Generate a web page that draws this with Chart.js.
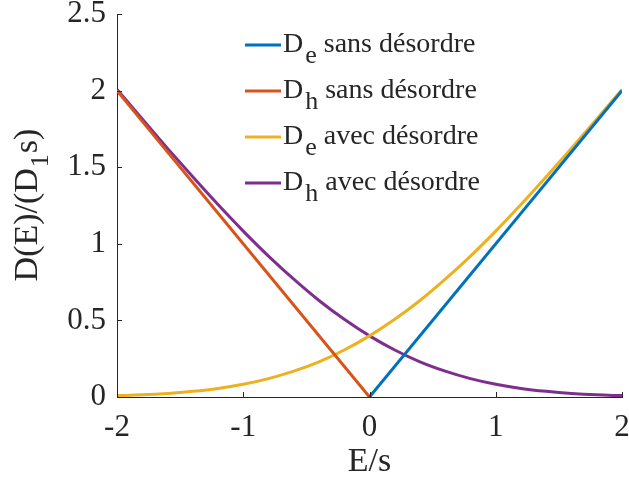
<!DOCTYPE html>
<html>
<head>
<meta charset="utf-8">
<script src="https://cdn.jsdelivr.net/npm/chart.js@4/dist/chart.umd.min.js"></script>
<style>
html,body{margin:0;padding:0;background:#fff;}
#wrap{width:629px;height:488px;position:relative;}
.pre{font-family:"Liberation Serif";position:absolute;left:-999px;top:-999px;}
</style>
</head>
<body>
<div id="wrap"><canvas id="c" width="629" height="488"></canvas></div>
<span class="pre">D(E) désordre 0.5</span>
<script>
// ---- data ----
const xTicks = [-2, -1, 0, 1, 2];
const yTicks = [0, 0.5, 1, 1.5, 2, 2.5];

const eSans = [0, 2];
const deSans = [0, 2];
const hSans = [-2, 0];
const dhSans = [2, 0];

const eAvec = [-2, -1.8, -1.6, -1.4, -1.2, -1, -0.8, -0.6, -0.4, -0.2, 0, 0.2, 0.4, 0.6, 0.8, 1, 1.2, 1.4, 1.6, 1.8, 2];
const deAvec = [0.009, 0.014, 0.023, 0.037, 0.056, 0.083, 0.12, 0.169, 0.23, 0.307, 0.399, 0.507, 0.63, 0.769, 0.92, 1.083, 1.256, 1.437, 1.623, 1.814, 2.008];
const dhAvec = [2.008, 1.814, 1.623, 1.437, 1.256, 1.083, 0.92, 0.769, 0.63, 0.507, 0.399, 0.307, 0.23, 0.169, 0.12, 0.083, 0.056, 0.037, 0.023, 0.014, 0.009];

const legendMain = ['D', 'D', 'D', 'D'];
const legendSub = ['e', 'h', 'e', 'h'];
const legendRest = [' sans désordre', ' sans désordre', ' avec désordre', ' avec désordre'];
const colors = ['#0072BD', '#D95319', '#EDB120', '#7E2F8E'];

const xTitle = 'E/s';
const yTitleParts = ['D(E)/(D', '1', 's)'];

const SERIF = "'Liberation Serif', 'Times New Roman', 'DejaVu Serif', serif";
const TXT = '#262626';

function pts(xs, ys) { return xs.map((x, i) => ({x: x, y: ys[i]})); }

const extras = {
  id: 'extras',
  afterDraw(chart) {
    const ctx = chart.ctx;
    const xs = chart.scales.x, ys = chart.scales.y;
    const ca = chart.chartArea;
    ctx.save();
    ctx.strokeStyle = TXT;
    ctx.lineWidth = 1;
    ctx.beginPath();
    xTicks.forEach(v => {
      const px = Math.round(xs.getPixelForValue(v)) + 0.5;
      ctx.moveTo(px, ca.bottom);
      ctx.lineTo(px, ca.bottom - 5);
    });
    yTicks.forEach(v => {
      const py = Math.round(ys.getPixelForValue(v)) + 0.5;
      ctx.moveTo(ca.left, py);
      ctx.lineTo(ca.left + 5, py);
    });
    ctx.stroke();

    ctx.fillStyle = TXT;
    const mainF = '34px ' + SERIF, subF = '26px ' + SERIF;
    ctx.font = mainF; const w1 = ctx.measureText(yTitleParts[0]).width;
    ctx.font = subF; const w2 = ctx.measureText(yTitleParts[1]).width;
    ctx.font = mainF; const w3 = ctx.measureText(yTitleParts[2]).width;
    const total = w1 + w2 + w3 + 2;
    ctx.translate(37, 205);
    ctx.rotate(-Math.PI / 2);
    ctx.textBaseline = 'alphabetic';
    ctx.textAlign = 'left';
    let cx = -total / 2;
    ctx.font = mainF; ctx.fillText(yTitleParts[0], cx, 0); cx += w1 + 1;
    ctx.font = subF; ctx.fillText(yTitleParts[1], cx, 11); cx += w2 + 1;
    ctx.font = mainF; ctx.fillText(yTitleParts[2], cx, 0);
    ctx.restore();

    ctx.save();
    const rowY = [45, 91, 137, 183];
    ctx.textBaseline = 'alphabetic';
    ctx.textAlign = 'left';
    ctx.fillStyle = TXT;
    for (let i = 0; i < 4; i++) {
      const y = rowY[i];
      ctx.strokeStyle = colors[i];
      ctx.lineWidth = 3;
      ctx.beginPath();
      ctx.moveTo(245, y); ctx.lineTo(281, y);
      ctx.stroke();
      let tx = 283;
      ctx.font = '28px ' + SERIF;
      ctx.fillText(legendMain[i], tx, y + 7);
      tx += ctx.measureText(legendMain[i]).width + 2;
      ctx.font = '26px ' + SERIF;
      ctx.fillText(legendSub[i], tx, y + 18);
      tx += ctx.measureText(legendSub[i]).width;
      ctx.font = '28px ' + SERIF;
      ctx.fillText(legendRest[i], tx, y + 7);
    }
    ctx.restore();
  }
};

function build() {
  new Chart(document.getElementById('c'), {
    type: 'line',
    data: {
      datasets: [
        {label: 'De sans désordre', data: pts(eSans, deSans), borderColor: colors[0]},
        {label: 'Dh sans désordre', data: pts(hSans, dhSans), borderColor: colors[1]},
        {label: 'De avec désordre', data: pts(eAvec, deAvec), borderColor: colors[2], cubicInterpolationMode: 'monotone'},
        {label: 'Dh avec désordre', data: pts(eAvec, dhAvec), borderColor: colors[3], cubicInterpolationMode: 'monotone'}
      ]
    },
    options: {
      responsive: false,
      animation: false,
      devicePixelRatio: 1,
      layout: {padding: {top: 14, right: 7, left: 0, bottom: 0}},
      elements: {point: {radius: 0}, line: {borderWidth: 3, fill: false}},
      plugins: {legend: {display: false}, tooltip: {enabled: false}},
      scales: {
        x: {
          type: 'linear', min: -2, max: 2,
          grid: {display: false, drawTicks: false},
          border: {display: true, color: TXT, width: 1},
          ticks: {stepSize: 1, color: TXT, font: {family: SERIF, size: 31}, padding: 12, maxRotation: 0,
                  callback: v => String(v)},
          title: {display: true, text: xTitle, color: TXT, font: {family: SERIF, size: 34}, padding: {top: 0, bottom: 6}},
          afterFit: s => { s.height = 91; s.paddingLeft = 0; s.paddingRight = 0; }
        },
        y: {
          type: 'linear', min: 0, max: 2.5,
          grid: {display: false, drawTicks: false},
          border: {display: true, color: TXT, width: 1},
          ticks: {stepSize: 0.5, color: TXT, font: {family: SERIF, size: 31}, padding: 11,
                  callback: v => String(v)},
          afterFit: s => { s.width = 117; s.paddingTop = 0; s.paddingBottom = 0; }
        }
      }
    },
    plugins: [extras]
  });
}
if (document.fonts && document.fonts.load) {
  Promise.all([document.fonts.load("31px 'Liberation Serif'"), document.fonts.load("34px 'Liberation Serif'")])
    .then(build, build);
} else { build(); }
</script>
</body>
</html>
